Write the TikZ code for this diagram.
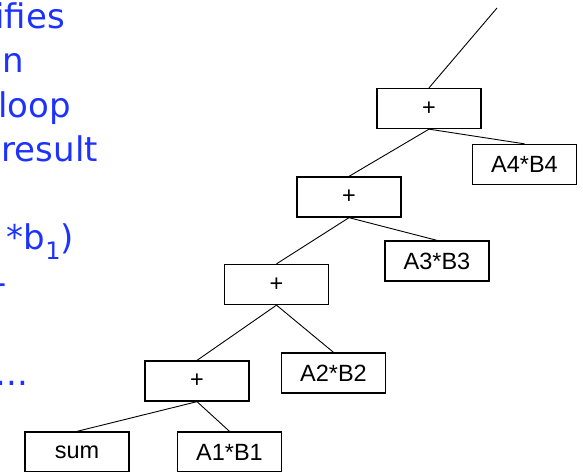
\documentclass[tikz,border=0pt]{standalone}
\usepackage{fontspec}
\setmainfont{Liberation Sans}
\newfontfamily\notefont{DejaVu Sans}
\definecolor{noteblue}{RGB}{30,50,255}
\begin{document}
\begin{tikzpicture}[x=1pt,y=-1pt,
  opbox/.style={draw,line width=1.3pt,minimum width=104pt,minimum height=40pt,inner sep=0pt,
    font=\fontsize{23.5}{26}\selectfont},
  link/.style={line width=0.9pt},
  note/.style={anchor=base east,inner sep=0pt,text=noteblue,
    font=\notefont\fontsize{34}{40}\selectfont}]
\useasboundingbox (0,0) rectangle (583,471);
\clip (0,0) rectangle (583,471);

% cut-off bullet text on the left
\node[note] (t1) at (65,28) {ifies};
\node[note] (t2) at (24,72) {n};
\node[note] (t3) at (71,117) {loop};
\node[note] (t4) at (98,161) {result};
\node[note] (t5) at (74,249) {*b\raisebox{-10pt}{\fontsize{24}{24}\selectfont 1})};
\node[note] (t6) at (6.5,294) {-};
\node[note] (t7) at (28.5,385) {...};

% expression tree of the accumulated sum
\node[opbox] (p1) at (429,108.5) {+};
\node[opbox] (a4) at (524.5,164.5) {A4*B4};
\node[opbox] (p2) at (349,197) {+};
\node[opbox] (a3) at (437,261) {A3*B3};
\node[opbox] (p3) at (276.5,284.5) {+};
\node[opbox] (a2) at (333.5,373) {A2*B2};
\node[opbox] (p4) at (197,381) {+};
\node[opbox] (a1) at (229.5,452) {A1*B1};
\node[opbox] (sum) at (77,452) {sum};
\coordinate (root) at (497,8);

\draw[link] (root) -- (p1.north);
\draw[link] (p1.south) -- (a4.north);
\draw[link] (p1.south) -- (p2.north);
\draw[link] (p2.south) -- (a3.north);
\draw[link] (p2.south) -- (p3.north);
\draw[link] (p3.south) -- (a2.north);
\draw[link] (p3.south) -- (p4.north);
\draw[link] (p4.south) -- (a1.north);
\draw[link] (p4.south) -- (sum.north);
\end{tikzpicture}
\end{document}
